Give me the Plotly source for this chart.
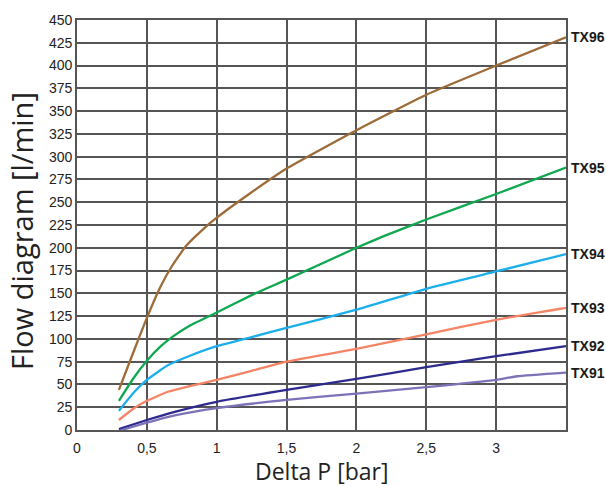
#!/usr/bin/env python3

import plotly.graph_objs as go

# Delta P [bar] / flow [l/min]
x_tx96 = [0.3, 0.4, 0.5, 0.6, 0.68, 0.78, 0.9, 1.0, 1.25, 1.5, 2.0, 2.5, 3.0, 3.5]
y_tx96 = [44, 84, 123, 158, 180, 202, 220, 233, 261, 287, 329, 368, 400, 431]

x_tx95 = [0.3, 0.4, 0.5, 0.6, 0.68, 0.8, 1.0, 1.25, 1.5, 2.0, 2.2, 2.5, 3.0, 3.5]
y_tx95 = [32, 56, 76, 92, 102, 114, 129, 148, 165, 200, 213, 231, 259, 288]

x_tx94 = [0.3, 0.4, 0.5, 0.65, 0.8, 1.0, 1.25, 1.5, 2.0, 2.5, 3.0, 3.5]
y_tx94 = [21, 40, 55, 71, 81, 92, 102, 112, 132, 155, 174, 193]

x_tx93 = [0.3, 0.4, 0.5, 0.65, 0.8, 1.0, 1.25, 1.5, 2.0, 2.5, 3.0, 3.5]
y_tx93 = [11, 23, 32, 42, 48, 55, 65, 75, 89, 105, 121, 134]

x_tx92 = [0.3, 0.5, 0.7, 1.0, 1.5, 2.0, 2.5, 3.0, 3.5]
y_tx92 = [1, 11, 20, 31, 44, 56, 69, 81, 92]

x_tx91 = [0.32, 0.5, 0.7, 1.0, 1.5, 2.0, 2.5, 3.0, 3.15, 3.5]
y_tx91 = [0, 8, 16, 24, 33, 40, 47, 55, 59, 63]

x_ticks = [0, 0.5, 1, 1.5, 2, 2.5, 3, 3.5]
x_labels = ["0", "0,5", "1", "1,5", "2", "2,5", "3", ""]
y_ticks = list(range(0, 451, 25))

series = [
    ("TX96", x_tx96, y_tx96, "#9c6b38"),
    ("TX95", x_tx95, y_tx95, "#0fa850"),
    ("TX94", x_tx94, y_tx94, "#1aaeea"),
    ("TX93", x_tx93, y_tx93, "#f58466"),
    ("TX92", x_tx92, y_tx92, "#2d2a8e"),
    ("TX91", x_tx91, y_tx91, "#7c72b8"),
]


def main():
    fig = go.Figure()
    notes = []
    for name, xs, ys, col in series:
        fig.add_trace(go.Scatter(x=xs, y=ys, name=name, mode="lines",
                                 line=dict(color=col, width=2.3, shape="spline", smoothing=0.4)))
        notes.append(dict(x=1, xref="paper", y=ys[-1], yref="y", text="<b>%s</b>" % name,
                          showarrow=False, xanchor="left", xshift=3,
                          font=dict(family="Liberation Sans, Arial", size=14, color="#1a1a1a")))

    # axis titles as annotations so they sit where the reference has them
    title_font = dict(family="Open Sans", color="#222")
    notes.append(dict(x=0, xref="paper", y=0.5, yref="paper", text="Flow diagram [l/min]",
                      textangle=-90, showarrow=False, xanchor="center", yanchor="middle",
                      xshift=-56, yshift=-6, font=dict(size=29, **title_font)))
    notes.append(dict(x=0.5, xref="paper", y=0, yref="paper", text="Delta P [bar]",
                      showarrow=False, xanchor="center", yanchor="middle",
                      yshift=-41, font=dict(size=23, **title_font)))

    axis_font = dict(family="Liberation Sans, Arial", size=14, color="#222")
    fig.update_layout(
        width=606, height=486,
        margin=dict(l=77, r=40, t=18, b=56),
        paper_bgcolor="white", plot_bgcolor="white",
        showlegend=False,
        annotations=notes,
        xaxis=dict(range=[0, 3.5], tickvals=x_ticks, ticktext=x_labels,
                   showgrid=True, gridcolor="#555", gridwidth=1.6,
                   zeroline=False, showline=True, linecolor="#555", linewidth=1.6, mirror=True,
                   tickfont=axis_font, ticks="", ticklabelstandoff=4),
        yaxis=dict(range=[0, 450], tickvals=y_ticks,
                   showgrid=True, gridcolor="#555", gridwidth=1.6,
                   zeroline=False, showline=True, linecolor="#555", linewidth=1.6, mirror=True,
                   tickfont=axis_font, ticks=""),
    )
    fig.write_html("out.html", config={"displayModeBar": False},
                   post_script="document.body.style.margin='0';document.body.style.overflow='hidden';")


if __name__ == '__main__':
    main()
